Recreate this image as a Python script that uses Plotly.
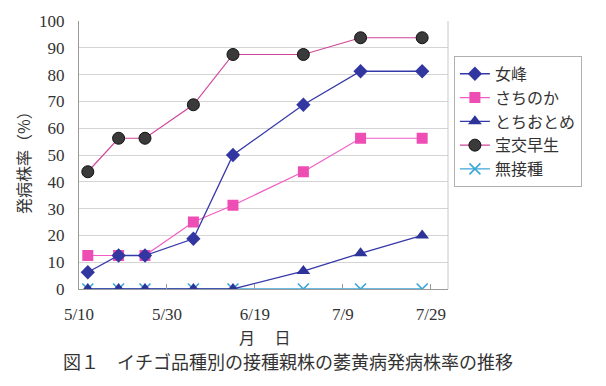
import plotly.graph_objects as go

dates = ["2010-05-12", "2010-05-19", "2010-05-25", "2010-06-05",
         "2010-06-14", "2010-06-30", "2010-07-13", "2010-07-27"]
nyoho = [6.25, 12.5, 12.5, 18.75, 50.0, 68.75, 81.25, 81.25]
sachinoka = [12.5, 12.5, 12.5, 25.0, 31.25, 43.75, 56.25, 56.25]
tochiotome = [0, 0, 0, 0, 0, 6.67, 13.33, 20.0]
hokowase = [43.75, 56.25, 56.25, 68.75, 87.5, 87.5, 93.75, 93.75]
control = [0, 0, 0, 0, 0, 0, 0, 0]

tick_dates = ["2010-05-10", "2010-05-30", "2010-06-19", "2010-07-09", "2010-07-29"]
tick_text = ["5/10", "5/30", "6/19", "7/9", "7/29"]

JP = "Noto Sans CJK JP"
NUM = "Liberation Serif"

fig = go.Figure()

fig.add_trace(go.Scatter(
    x=dates, y=control, name="無接種", mode="lines+markers", legendrank=5,
    line=dict(color="#3aa6d8", width=1.3),
    marker=dict(symbol="x-thin", size=11, line=dict(color="#3aa6d8", width=1.6)),
))
fig.add_trace(go.Scatter(
    x=dates, y=hokowase, name="宝交早生", mode="lines+markers", legendrank=4,
    line=dict(color="#d0449a", width=1.2),
    marker=dict(symbol="circle", size=12, color="#3a3a3a", line=dict(color="#111111", width=1)),
))
fig.add_trace(go.Scatter(
    x=dates, y=sachinoka, name="さちのか", mode="lines+markers", legendrank=2,
    line=dict(color="#f25cc4", width=1.2),
    marker=dict(symbol="square", size=11, color="#ee4db4", line=dict(width=0)),
))
fig.add_trace(go.Scatter(
    x=dates, y=nyoho, name="女峰", mode="lines+markers", legendrank=1,
    line=dict(color="#3538a8", width=1.3),
    marker=dict(symbol="diamond", size=11, color="#3236a0", line=dict(width=0)),
))
fig.add_trace(go.Scatter(
    x=dates, y=tochiotome, name="とちおとめ", mode="lines+markers", legendrank=3,
    line=dict(color="#3538a8", width=1.3),
    marker=dict(symbol="triangle-up", size=12, color="#2e3399", line=dict(width=0)),
))

fig.update_layout(
    width=606, height=386,
    margin=dict(l=79, r=158, t=17, b=97),
    paper_bgcolor="white", plot_bgcolor="white",
    font=dict(family=NUM, size=17, color="#333333"),
    showlegend=True,
    legend=dict(
        x=1.016, y=0.87, xanchor="left", yanchor="top",
        bordercolor="#b0b0b0", borderwidth=1, bgcolor="white",
        font=dict(family=JP, size=16, color="#333333"),
        tracegroupgap=0, itemwidth=30,
    ),
    xaxis=dict(
        type="date",
        range=["2010-05-10", "2010-08-01 21:00"],
        tickvals=tick_dates, ticktext=tick_text,
        showgrid=False, zeroline=False,
        showline=True, linecolor="#9a9a9a", linewidth=1,
        ticks="inside", ticklen=5, tickcolor="#9a9a9a",
        tickfont=dict(family=NUM, size=17, color="#333333"),
        ticklabelstandoff=10,
    ),
    yaxis=dict(
        range=[0, 100], tickvals=list(range(0, 101, 10)),
        showgrid=True, gridcolor="#d4d4d4", gridwidth=1,
        zeroline=False, showline=True, linecolor="#9a9a9a", linewidth=1,
        ticks="", tickfont=dict(family=NUM, size=17, color="#333333"),
        ticklabelstandoff=10,
    ),
    shapes=[dict(type="line", xref="paper", yref="paper", x0=1, x1=1, y0=0, y1=1,
                 line=dict(color="#c8c8c8", width=1))],
    annotations=[
        dict(text="発病株率（%）", textangle=-90, xref="paper", yref="paper",
             x=(23 - 79) / 369, y=(289 - 157) / 272, xanchor="center", yanchor="middle",
             showarrow=False, font=dict(family=JP, size=16, color="#333333")),
        dict(text="月　 日", xref="paper", yref="paper",
             x=(265 - 79) / 369, y=-(338 - 289) / 272, xanchor="center", yanchor="middle",
             showarrow=False, font=dict(family=JP, size=16, color="#333333")),
        dict(text="図１　イチゴ品種別の接種親株の萎黄病発病株率の推移", xref="paper", yref="paper",
             x=(288 - 79) / 369, y=-(362 - 289) / 272, xanchor="center", yanchor="middle",
             showarrow=False, font=dict(family=JP, size=18, color="#333333")),
    ],
)

fig.write_html("out.html", config={"displayModeBar": False},
               post_script="document.body.style.margin='0';")
